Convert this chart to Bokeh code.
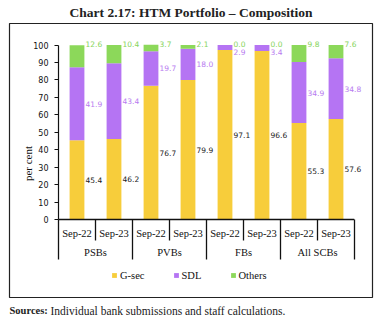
from bokeh.plotting import figure
from bokeh.models import (FactorRange, Range1d, FixedTicker, Legend, LegendItem, Span,
                          ColumnDataSource)
from bokeh.core.properties import value
from bokeh.embed import file_html
from bokeh.resources import INLINE

# ---------------- data ----------------
groups = ["PSBs", "PVBs", "FBs", "All SCBs"]
periods = ["Sep-22", "Sep-23"]
gsec = [45.4, 46.2, 76.7, 79.9, 97.1, 96.6, 55.3, 57.6]
sdl = [41.9, 43.4, 19.7, 18.0, 2.9, 3.4, 34.9, 34.8]
others = [12.6, 10.4, 3.7, 2.1, 0.0, 0.0, 9.8, 7.6]
series_names = ["G-sec", "SDL", "Others"]
y_ticks = list(range(0, 101, 10))
title_text = "Chart 2.17: HTM Portfolio \u2013 Composition"
source_bold = "Sources:"
source_text = "Individual bank submissions and staff calculations."

# ---------------- styling / layout ----------------
C_GSEC = "#F7CD3B"
C_SDL = "#B574F3"
C_OTH = "#8CD85A"
C_SDL_LBL = "#B77BF0"
C_OTH_LBL = "#86D45A"
SERIF = "Liberation Serif"
SANS = "DejaVu Sans"

W, H = 380, 322
F_LEFT, F_RIGHT = 58, 354
F_TOP, F_BOTTOM = 38, 288
PX_ZERO, PX_100 = 219.0, 44.5
K = (PX_ZERO - PX_100) / 100.0

factors = [(g, s) for g in groups for s in periods]
n = len(factors)
KX = (F_RIGHT - F_LEFT) / n


def py(px):
    """canvas pixel row -> data y"""
    return (PX_ZERO - px) / K


def px_(cx):
    """canvas pixel column -> synthetic x"""
    return (cx - F_LEFT) / KX


s_top = [a + b for a, b in zip(gsec, sdl)]
o_top = [a + b for a, b in zip(s_top, others)]

src = ColumnDataSource(dict(
    x=factors,
    g0=[0] * n, g1=gsec, s1=s_top, o1=o_top,
    g_lbl=["%.1f" % v for v in gsec],
    s_lbl=["%.1f" % v for v in sdl],
    o_lbl=["%.1f" % v for v in others],
    g_y=[v / 2 for v in gsec],
    s_y=[min(a + b / 2, 96.2) for a, b in zip(gsec, sdl)],
    o_y=[100.0 for _ in others],
))

x_range = FactorRange(*factors, range_padding=0, group_padding=0, subgroup_padding=0)
y_range = Range1d(py(F_BOTTOM), py(F_TOP))

p = figure(width=W, height=H, x_range=x_range, y_range=y_range,
           output_backend="svg", toolbar_location=None, x_axis_location=None,
           min_border_left=F_LEFT, min_border_right=W - F_RIGHT,
           min_border_top=F_TOP, min_border_bottom=H - F_BOTTOM)
p.outline_line_color = None
p.grid.visible = False
p.background_fill_color = "white"
p.border_fill_color = "white"

BW = 0.4
r_g = p.vbar(x="x", bottom="g0", top="g1", width=BW, source=src, fill_color=C_GSEC, line_color=None)
r_s = p.vbar(x="x", bottom="g1", top="s1", width=BW, source=src, fill_color=C_SDL, line_color=None)
r_o = p.vbar(x="x", bottom="s1", top="o1", width=BW, source=src, fill_color=C_OTH, line_color=None)

lbl_kw = dict(text_font=value(SANS), text_font_size="7.5px", text_align="left",
              text_baseline="middle", x_offset=8.5, source=src, level="overlay")
p.text(x="x", y="g_y", text="g_lbl", text_color="#222222", **lbl_kw)
p.text(x="x", y="s_y", text="s_lbl", text_color=C_SDL_LBL, **lbl_kw)
p.text(x="x", y="o_y", text="o_lbl", text_color=C_OTH_LBL, y_offset=-1, **lbl_kw)

# x axis (drawn by hand: base line, separators, two levels of labels)
p.add_layout(Span(location=0, dimension="width", line_color="#111111", line_width=1.3))
sep_x = list(range(n + 1))
sep_y1 = [py(259) if i % len(periods) == 0 else py(240) for i in sep_x]
p.segment(x0=sep_x, y0=[0] * len(sep_x), x1=sep_x, y1=sep_y1,
          line_color="#111111", line_width=1.3, level="overlay")
p.text(x=factors, y=[py(232.5)] * n, text=[f[1] for f in factors],
       text_font=value(SERIF), text_font_size="10.5px", text_align="center",
       text_baseline="middle", text_color="#111111")
p.text(x=groups, y=[py(252)] * len(groups), text=groups,
       text_font=value(SERIF), text_font_size="10.5px", text_align="center",
       text_baseline="middle", text_color="#111111")

# y axis
ya = p.yaxis[0]
ya.ticker = FixedTicker(ticks=y_ticks)
ya.bounds = (0, 100)
ya.axis_line_color = "#111111"
ya.axis_line_width = 1.2
ya.major_tick_line_color = "#111111"
ya.major_tick_out = 4
ya.major_tick_in = 0
ya.minor_tick_out = 0
ya.minor_tick_in = 0
ya.major_label_text_font = SANS
ya.major_label_text_font_size = "8px"
ya.major_label_text_color = "#111111"
ya.major_label_standoff = 6
ya.axis_label = "per cent"
ya.axis_label_text_font = SERIF
ya.axis_label_text_font_style = "normal"
ya.axis_label_text_font_size = "11px"
ya.axis_label_text_color = "#111111"
ya.axis_label_standoff = -4

# legend
legend = Legend(items=[LegendItem(label=series_names[0], renderers=[r_g]),
                       LegendItem(label=series_names[1], renderers=[r_s]),
                       LegendItem(label=series_names[2], renderers=[r_o])],
                orientation="horizontal", location=(111 - F_LEFT, F_BOTTOM - 281),
                glyph_width=6, glyph_height=6, label_height=12, label_standoff=3,
                spacing=28, padding=0, margin=0, background_fill_alpha=0,
                border_line_color=None, label_text_font=SERIF,
                label_text_font_size="10.5px", label_text_color="#111111")
p.add_layout(legend)

# title, frame box, source note (unclipped overlay glyphs)
p.text(x=[px_(190.5)], y=[py(12)], text=[title_text], text_align="center",
       text_baseline="middle", text_font=value(SERIF), text_font_style="bold",
       text_font_size="13.5px", text_color="#222222", level="overlay")
p.quad(left=[px_(9)], right=[px_(372)], top=[py(23)], bottom=[py(297)],
       fill_alpha=0, line_color="#222222", line_width=1.2, level="overlay")
p.text(x=[px_(9)], y=[py(310)], text=[source_bold], text_align="left",
       text_baseline="middle", text_font=value(SERIF), text_font_style="bold",
       text_font_size="10.5px", text_color="#222222", level="overlay")
p.text(x=[px_(50)], y=[py(310)], text=[source_text], text_align="left",
       text_baseline="middle", text_font=value(SERIF),
       text_font_size="11.5px", text_color="#222222", level="overlay")

open("out.html", "w").write(file_html(p, INLINE))
